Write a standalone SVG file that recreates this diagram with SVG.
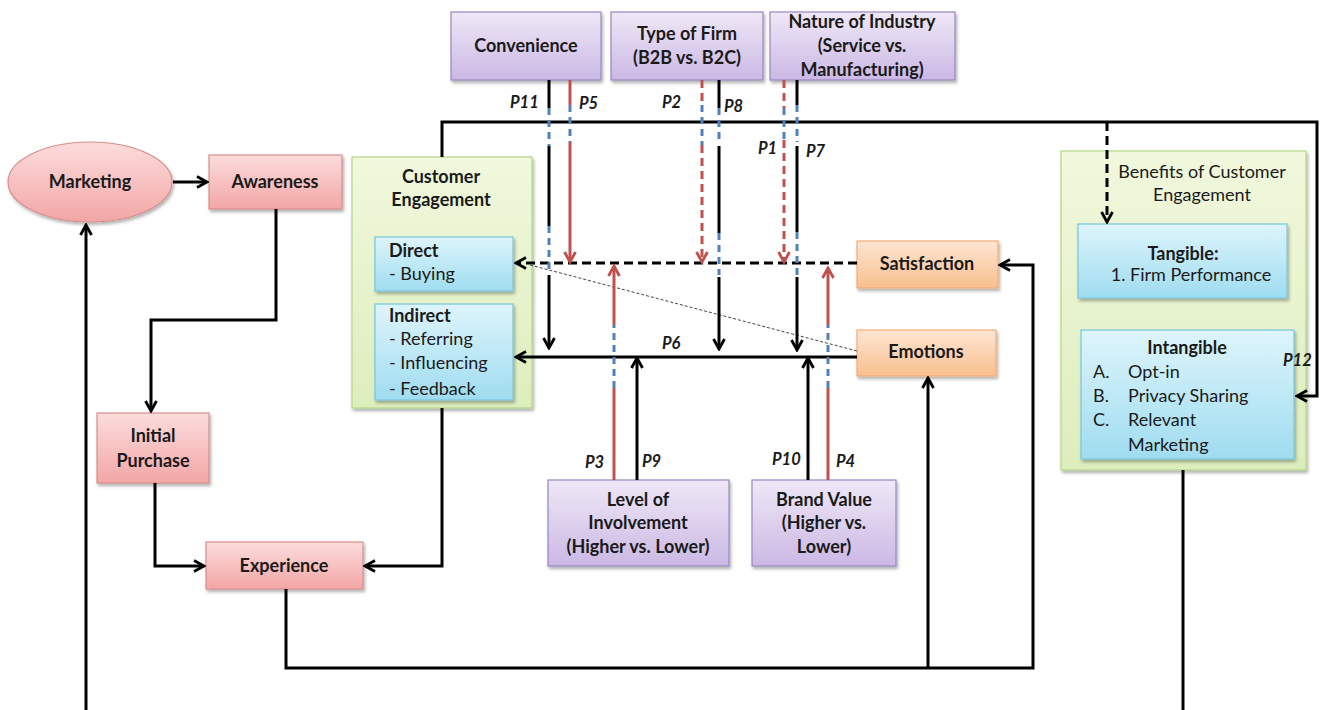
<svg xmlns="http://www.w3.org/2000/svg" width="1324" height="710" viewBox="0 0 1324 710">
<defs>
<linearGradient id="gPink" x1="0" y1="0" x2="0" y2="1"><stop offset="0" stop-color="#fcdcdc"/><stop offset="1" stop-color="#f3a6a6"/></linearGradient>
<linearGradient id="gPurple" x1="0" y1="0" x2="0" y2="1"><stop offset="0" stop-color="#efe8f7"/><stop offset="1" stop-color="#cbb8e4"/></linearGradient>
<linearGradient id="gOrange" x1="0" y1="0" x2="0" y2="1"><stop offset="0" stop-color="#fde6d3"/><stop offset="1" stop-color="#f9bf8e"/></linearGradient>
<linearGradient id="gBlue" x1="0" y1="0" x2="0" y2="1"><stop offset="0" stop-color="#def5fc"/><stop offset="1" stop-color="#9fdcf0"/></linearGradient>
<linearGradient id="gGreen" x1="0" y1="0" x2="0" y2="1"><stop offset="0" stop-color="#f1f8dd"/><stop offset="1" stop-color="#ddeebd"/></linearGradient>
<filter id="sh" x="-10%" y="-10%" width="130%" height="140%"><feDropShadow dx="1.5" dy="2.5" stdDeviation="1.5" flood-color="#000" flood-opacity="0.3"/></filter>
<marker id="aB" viewBox="0 0 14 14" refX="12" refY="7" markerWidth="14" markerHeight="14" markerUnits="userSpaceOnUse" orient="auto"><path d="M2,1.5 L12,7 L2,12.5" fill="none" stroke="#000" stroke-width="2.8"/></marker>
<marker id="aR" viewBox="0 0 14 14" refX="12" refY="7" markerWidth="14" markerHeight="14" markerUnits="userSpaceOnUse" orient="auto"><path d="M2,1.5 L12,7 L2,12.5" fill="none" stroke="#c0504d" stroke-width="2.8"/></marker>
</defs>
<style>
text{font-family:Lato,"Open Sans","Liberation Sans",sans-serif;fill:#1a1a1a;font-size:18px}
.b{font-weight:bold}
.c{text-anchor:middle}
.p{font-weight:bold;font-style:italic;font-size:16.5px}
.pink{fill:url(#gPink);stroke:#d88d8b;stroke-width:1.2;filter:url(#sh)}
.purple{fill:url(#gPurple);stroke:#9a85c1;stroke-width:1.2;filter:url(#sh)}
.orange{fill:url(#gOrange);stroke:#f3ad74;stroke-width:1.2;filter:url(#sh)}
.blue{fill:url(#gBlue);stroke:#79c5dc;stroke-width:1.2;filter:url(#sh)}
.green{fill:url(#gGreen);stroke:#b4d585;stroke-width:1.2;filter:url(#sh)}
.k{fill:none;stroke:#000;stroke-width:3}
.kd{fill:none;stroke:#000;stroke-width:3;stroke-dasharray:9,5}
.r{fill:none;stroke:#c0504d;stroke-width:3}
.rd{fill:none;stroke:#c0504d;stroke-width:3;stroke-dasharray:8,5}
.bl{fill:none;stroke:#4f81bd;stroke-width:3;stroke-dasharray:7,5}
.thin{fill:none;stroke:#444;stroke-width:1;stroke-dasharray:3,2}
</style>

<g id="marketing"><ellipse class="pink" cx="90" cy="182" rx="82" ry="40"/><text class="b c" x="90" y="188">Marketing</text></g>
<g id="awareness"><rect class="pink" x="209" y="155" width="133" height="54"/><text class="b c" x="275" y="188">Awareness</text></g>
<g id="initial-purchase"><rect class="pink" x="97" y="413" width="112" height="70"/><text class="b c" x="153" y="442">Initial</text><text class="b c" x="153" y="467">Purchase</text></g>
<g id="experience"><rect class="pink" x="206" y="542" width="157" height="47"/><text class="b c" x="284" y="572">Experience</text></g>

<g id="convenience"><rect class="purple" x="451" y="12" width="150" height="68"/><text class="b c" x="526" y="52">Convenience</text></g>
<g id="type-of-firm"><rect class="purple" x="611" y="12" width="152" height="68"/><text class="b c" x="687" y="40">Type of Firm</text><text class="b c" x="687" y="64">(B2B vs. B2C)</text></g>
<g id="nature-of-industry"><rect class="purple" x="770" y="12" width="185" height="68"/><text class="b c" x="862" y="28">Nature of Industry</text><text class="b c" x="862" y="52">(Service vs.</text><text class="b c" x="862" y="76">Manufacturing)</text></g>

<g id="customer-engagement">
<rect class="green" x="352" y="157" width="180" height="251"/>
<text class="b c" x="441" y="183">Customer</text><text class="b c" x="441" y="206">Engagement</text>
<g id="direct"><rect class="blue" x="375" y="237" width="138" height="54"/><text class="b" x="389" y="257">Direct</text><text x="389" y="280">- Buying</text></g>
<g id="indirect"><rect class="blue" x="375" y="304" width="138" height="96"/><text class="b" x="389" y="322">Indirect</text><text x="389" y="345">- Referring</text><text x="389" y="369">- Influencing</text><text x="389" y="395">- Feedback</text></g>
</g>

<g id="satisfaction"><rect class="orange" x="857" y="241" width="141" height="47"/><text class="b c" x="927" y="270">Satisfaction</text></g>
<g id="emotions"><rect class="orange" x="857" y="330" width="139" height="46"/><text class="b c" x="926" y="358">Emotions</text></g>

<g id="level-of-involvement"><rect class="purple" x="548" y="480" width="181" height="86"/><text class="b c" x="638" y="506">Level of</text><text class="b c" x="638" y="529">Involvement</text><text class="b c" x="638" y="553">(Higher vs. Lower)</text></g>
<g id="brand-value"><rect class="purple" x="752" y="480" width="144" height="86"/><text class="b c" x="824" y="506">Brand Value</text><text class="b c" x="824" y="529">(Higher vs.</text><text class="b c" x="824" y="553">Lower)</text></g>

<g id="benefits">
<rect class="green" x="1061" y="151" width="245" height="319"/>
<text class="c" x="1202" y="178">Benefits of Customer</text><text class="c" x="1202" y="201">Engagement</text>
<g id="tangible"><rect class="blue" x="1078" y="224" width="209" height="74"/><text class="b c" x="1183" y="260">Tangible:</text><text class="c" x="1191" y="281">1. Firm  Performance</text></g>
<g id="intangible"><rect class="blue" x="1081" y="330" width="213" height="129"/><text class="b c" x="1187" y="354">Intangible</text>
<text x="1093" y="378">A.</text><text x="1128" y="378">Opt-in</text>
<text x="1093" y="402">B.</text><text x="1128" y="402">Privacy Sharing</text>
<text x="1093" y="426">C.</text><text x="1128" y="426">Relevant</text>
<text x="1128" y="451">Marketing</text></g>
</g>

<g id="connectors">
<path class="k" d="M173,182 H207" marker-end="url(#aB)"/>
<path class="k" d="M276,209 V320 H151 V411" marker-end="url(#aB)"/>
<path class="k" d="M155,483 V566 H204" marker-end="url(#aB)"/>
<path class="k" d="M442,408 V566 H365" marker-end="url(#aB)"/>
<path class="k" d="M286,589 V668 H1033 V265 H1000" marker-end="url(#aB)"/>
<path class="k" d="M928,668 V378" marker-end="url(#aB)"/>
<path class="k" d="M86,710 V225" marker-end="url(#aB)"/>
<path class="k" d="M1183,470 V710"/>
<path class="k" d="M442,157 V122 H1317 V396 H1297" marker-end="url(#aB)"/>
<path class="kd" d="M1107,122 V222" marker-end="url(#aB)"/>
<path class="kd" d="M857,263 H516" marker-end="url(#aB)"/>
<path class="k" d="M857,357 H516" marker-end="url(#aB)"/>
<path class="thin" d="M530,265 L857,351"/>
<path class="k" d="M549,80 V108"/><path class="bl" d="M549,108 V146"/><path class="k" d="M549,146 V226"/><path class="bl" d="M549,226 V272"/><path class="k" d="M549,275 V348" marker-end="url(#aB)"/>
<path class="r" d="M570,80 V105"/><path class="bl" d="M570,105 V142"/><path class="r" d="M570,142 V262" marker-end="url(#aR)"/>
<path class="rd" d="M702,80 V105"/><path class="bl" d="M702,105 V145"/><path class="rd" d="M702,145 V262" marker-end="url(#aR)"/>
<path class="k" d="M719,80 V108"/><path class="bl" d="M719,108 V144"/><path class="k" d="M719,146 V233"/><path class="bl" d="M719,233 V275"/><path class="k" d="M719,277 V349" marker-end="url(#aB)"/>
<path class="rd" d="M784,80 V108"/><path class="bl" d="M784,108 V140"/><path class="rd" d="M784,140 V262" marker-end="url(#aR)"/>
<path class="k" d="M797,80 V105"/><path class="bl" d="M797,105 V142"/><path class="k" d="M797,146 V232"/><path class="bl" d="M797,232 V275"/><path class="k" d="M797,277 V350" marker-end="url(#aB)"/>
<path class="r" d="M614,480 V388"/><path class="bl" d="M614,388 V325"/><path class="r" d="M614,325 V266" marker-end="url(#aR)"/>
<path class="k" d="M637,480 V358" marker-end="url(#aB)"/>
<path class="k" d="M808,480 V358" marker-end="url(#aB)"/>
<path class="r" d="M828,480 V388"/><path class="bl" d="M828,388 V325"/><path class="r" d="M828,325 V268" marker-end="url(#aR)"/>
<text class="p" x="510" y="108">P11</text>
<text class="p" x="579" y="109">P5</text>
<text class="p" x="662" y="108">P2</text>
<text class="p" x="724" y="112">P8</text>
<text class="p" x="758" y="154">P1</text>
<text class="p" x="806" y="157">P7</text>
<text class="p" x="662" y="349">P6</text>
<text class="p" x="585" y="468">P3</text>
<text class="p" x="642" y="467">P9</text>
<text class="p" x="772" y="465">P10</text>
<text class="p" x="836" y="467">P4</text>
<text class="p" x="1283" y="366">P12</text>
</g>
</svg>
